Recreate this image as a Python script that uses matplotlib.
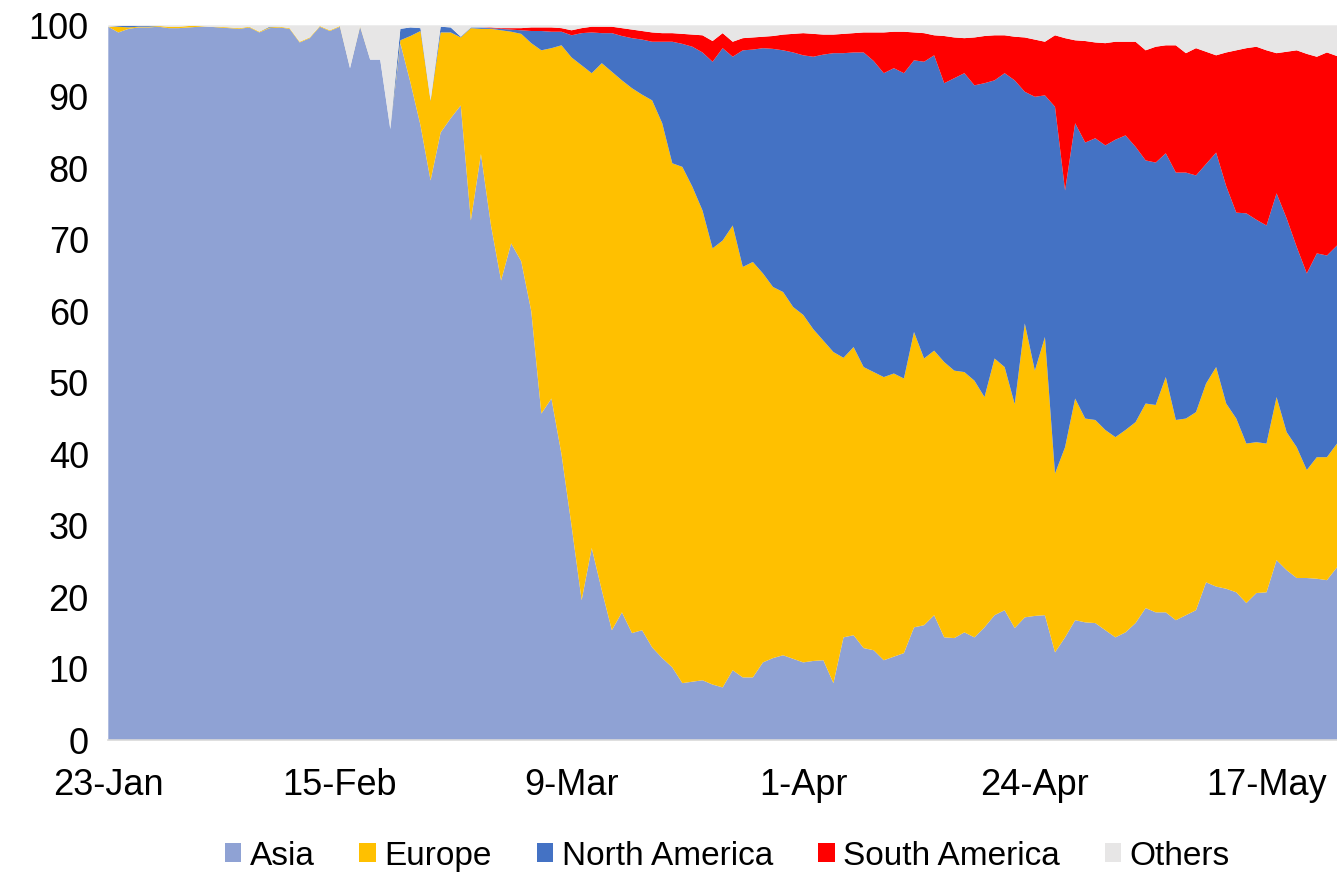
import matplotlib

matplotlib.use("Agg")
import matplotlib.dates as mdates
import matplotlib.pyplot as plt
import numpy as np
import pandas as pd


START_DATE = "2020-01-23"

# Daily share of new cases by region, percent
ASIA = [
    99.8, 99.0, 99.5, 99.7, 99.7, 99.8, 99.6, 99.6, 99.7, 99.8,
    99.8, 99.7, 99.6, 99.5, 99.7, 99.0, 99.6, 99.7, 99.5, 97.6,
    98.2, 99.8, 99.2, 99.8, 94.0, 99.8, 95.2, 95.2, 85.4, 97.5,
    92.0, 86.0, 78.3, 85.0, 87.0, 88.8, 72.7, 82.0, 72.0, 64.3,
    69.5, 67.0, 60.0, 45.7, 47.8, 40.0, 30.0, 19.6, 26.9, 21.0,
    15.4, 17.9, 15.0, 15.4, 13.0, 11.5, 10.2, 8.0, 8.2, 8.4,
    7.8, 7.4, 9.8, 8.8, 8.8, 10.9, 11.5, 11.9, 11.4, 10.9,
    11.1, 11.2, 8.0, 14.4, 14.7, 12.9, 12.6, 11.2, 11.7, 12.2,
    15.8, 16.1, 17.5, 14.4, 14.3, 15.1, 14.4, 15.8, 17.5, 18.2,
    15.7, 17.2, 17.4, 17.5, 12.3, 14.4, 16.8, 16.5, 16.4, 15.4,
    14.4, 15.1, 16.4, 18.5, 17.9, 17.9, 16.8, 17.5, 18.2, 22.1,
    21.5, 21.2, 20.7, 19.2, 20.6, 20.7, 25.2, 23.8, 22.7, 22.7,
    22.6, 22.4, 24.2,
]
EUROPE = [
    0.0, 0.8, 0.2, 0.1, 0.1, 0.1, 0.2, 0.2, 0.2, 0.1,
    0.0, 0.1, 0.1, 0.1, 0.1, 0.1, 0.1, 0.1, 0.1, 0.1,
    0.1, 0.1, 0.1, 0.1, 0.0, 0.1, 0.0, 0.0, 0.0, 0.4,
    6.5, 13.2, 11.1, 14.0, 12.0, 9.5, 26.9, 17.5, 27.5, 35.0,
    29.6, 31.8, 37.5, 50.8, 49.0, 57.2, 65.5, 74.8, 66.4, 73.7,
    78.1, 74.4, 76.2, 74.9, 76.5, 74.8, 70.5, 72.2, 69.2, 65.7,
    61.0, 62.5, 62.2, 57.4, 58.1, 54.4, 51.9, 50.8, 49.2, 48.6,
    46.4, 44.7, 46.3, 39.1, 40.3, 39.3, 38.9, 39.6, 39.6, 38.4,
    41.3, 37.3, 37.0, 38.5, 37.4, 36.4, 35.9, 32.2, 35.9, 34.0,
    31.3, 41.1, 34.3, 38.9, 25.0, 26.6, 31.0, 28.5, 28.4, 28.0,
    28.0, 28.3, 28.1, 28.6, 29.0, 32.9, 28.0, 27.5, 27.7, 27.8,
    30.7, 25.9, 24.3, 22.3, 21.1, 20.8, 22.8, 19.3, 18.3, 15.1,
    17.0, 17.2, 17.3,
]
NORTH_AMERICA = [
    0.0, 0.1, 0.2, 0.1, 0.1, 0.0, 0.0, 0.0, 0.0, 0.0,
    0.0, 0.0, 0.0, 0.0, 0.0, 0.0, 0.1, 0.0, 0.0, 0.0,
    0.0, 0.0, 0.0, 0.0, 0.0, 0.0, 0.0, 0.0, 0.1, 1.6,
    1.2, 0.4, 0.1, 0.8, 0.7, 0.1, 0.1, 0.2, 0.1, 0.2,
    0.3, 0.5, 1.7, 2.7, 2.3, 1.9, 3.1, 4.5, 5.7, 4.2,
    5.4, 6.2, 7.0, 7.7, 8.2, 11.4, 17.0, 17.2, 19.6, 22.1,
    26.1, 26.9, 23.6, 30.3, 29.7, 31.5, 33.3, 33.8, 35.6, 36.3,
    38.1, 40.0, 41.8, 42.6, 41.2, 44.0, 43.5, 42.5, 42.7, 42.7,
    38.0, 41.5, 41.3, 39.0, 40.9, 41.8, 41.3, 43.9, 38.9, 41.1,
    45.3, 32.4, 38.3, 33.8, 51.3, 35.9, 38.5, 38.6, 39.4, 39.8,
    41.6, 41.2, 38.5, 34.0, 33.9, 31.3, 34.6, 34.4, 33.1, 30.7,
    30.0, 30.4, 28.8, 32.2, 31.1, 30.5, 28.5, 29.9, 28.0, 27.5,
    28.5, 28.2, 27.7,
]
SOUTH_AMERICA = [
    0.0, 0.0, 0.0, 0.0, 0.0, 0.0, 0.0, 0.0, 0.0, 0.0,
    0.0, 0.0, 0.0, 0.0, 0.0, 0.0, 0.0, 0.0, 0.0, 0.0,
    0.0, 0.0, 0.0, 0.0, 0.0, 0.0, 0.0, 0.0, 0.0, 0.0,
    0.0, 0.0, 0.0, 0.0, 0.0, 0.0, 0.0, 0.0, 0.1, 0.1,
    0.2, 0.3, 0.5, 0.5, 0.6, 0.5, 0.7, 0.7, 0.8, 0.9,
    0.9, 1.1, 1.2, 1.2, 1.3, 1.2, 1.2, 1.4, 1.7, 2.4,
    2.9, 2.1, 2.1, 1.7, 1.7, 1.6, 1.8, 2.2, 2.6, 3.1,
    3.2, 2.8, 2.6, 2.7, 2.7, 2.8, 4.0, 5.7, 5.1, 5.8,
    3.9, 4.0, 2.8, 6.6, 5.7, 4.9, 6.7, 6.6, 6.3, 5.3,
    6.1, 7.6, 8.0, 7.5, 10.0, 21.3, 11.6, 14.2, 13.4, 14.3,
    13.7, 13.1, 14.7, 15.4, 16.2, 15.1, 17.8, 16.7, 17.8, 15.7,
    13.6, 18.7, 22.7, 23.1, 24.2, 24.5, 19.6, 23.3, 27.5, 30.7,
    27.5, 28.4, 26.5,
]
OTHERS = [
    0.2, 0.1, 0.1, 0.1, 0.1, 0.1, 0.2, 0.2, 0.1, 0.1,
    0.2, 0.2, 0.3, 0.4, 0.2, 0.9, 0.2, 0.2, 0.4, 2.3,
    1.7, 0.1, 0.7, 0.1, 6.0, 0.1, 4.8, 4.8, 14.5, 0.5,
    0.3, 0.4, 10.5, 0.2, 0.3, 1.6, 0.3, 0.3, 0.3, 0.4,
    0.4, 0.4, 0.3, 0.3, 0.3, 0.4, 0.7, 0.4, 0.2, 0.2,
    0.2, 0.4, 0.6, 0.8, 1.0, 1.1, 1.1, 1.2, 1.3, 1.4,
    2.2, 1.1, 2.3, 1.8, 1.7, 1.6, 1.5, 1.3, 1.2, 1.1,
    1.2, 1.3, 1.3, 1.2, 1.1, 1.0, 1.0, 1.0, 0.9, 0.9,
    1.0, 1.1, 1.4, 1.5, 1.7, 1.8, 1.7, 1.5, 1.4, 1.4,
    1.6, 1.7, 2.0, 2.3, 1.4, 1.8, 2.1, 2.2, 2.4, 2.5,
    2.3, 2.3, 2.3, 3.5, 3.0, 2.8, 2.8, 3.9, 3.2, 3.7,
    4.2, 3.8, 3.5, 3.2, 3.0, 3.5, 3.9, 3.7, 3.5, 4.0,
    4.4, 3.8, 4.3,
]

REGIONS = ["Asia", "Europe", "North America", "South America", "Others"]
COLORS = ["#8FA2D4", "#FFC000", "#4472C4", "#FF0000", "#E7E6E6"]
TICK_STEP_DAYS = 23


def plot_regional_share() -> None:
    plt.rcParams["font.family"] = ["Liberation Sans", "DejaVu Sans"]

    dates = pd.date_range(START_DATE, periods=len(ASIA), freq="D")
    series = [ASIA, EUROPE, NORTH_AMERICA, SOUTH_AMERICA, OTHERS]

    fig = plt.figure(figsize=(13.37, 8.72), dpi=100)
    ax = fig.add_axes([0.081, 0.151, 0.919, 0.820])

    ax.stackplot(dates, *series, labels=REGIONS, colors=COLORS, linewidth=0)

    ax.set_xlim(dates[0], dates[-1])
    ax.set_ylim(0, 100)
    ax.set_yticks(np.arange(0, 101, 10))
    ax.set_xticks(dates[::TICK_STEP_DAYS])
    ax.xaxis.set_major_formatter(mdates.DateFormatter("%-d-%b"))

    ax.tick_params(axis="both", length=0, labelsize=26, colors="black")
    ax.tick_params(axis="y", pad=14)
    ax.tick_params(axis="x", pad=20)
    for side in ("top", "right", "left"):
        ax.spines[side].set_visible(False)
    ax.spines["bottom"].set_color("#D9D9D9")
    ax.spines["bottom"].set_linewidth(1.2)

    fig.legend(
        loc="center",
        bbox_to_anchor=(0.544, 0.018),
        ncol=5,
        frameon=False,
        fontsize=24,
        handlelength=0.5,
        handleheight=0.5,
        handletextpad=0.25,
        columnspacing=1.35,
    )

    fig.savefig("out.png", dpi=100)
    plt.close(fig)


if __name__ == "__main__":
    plot_regional_share()
